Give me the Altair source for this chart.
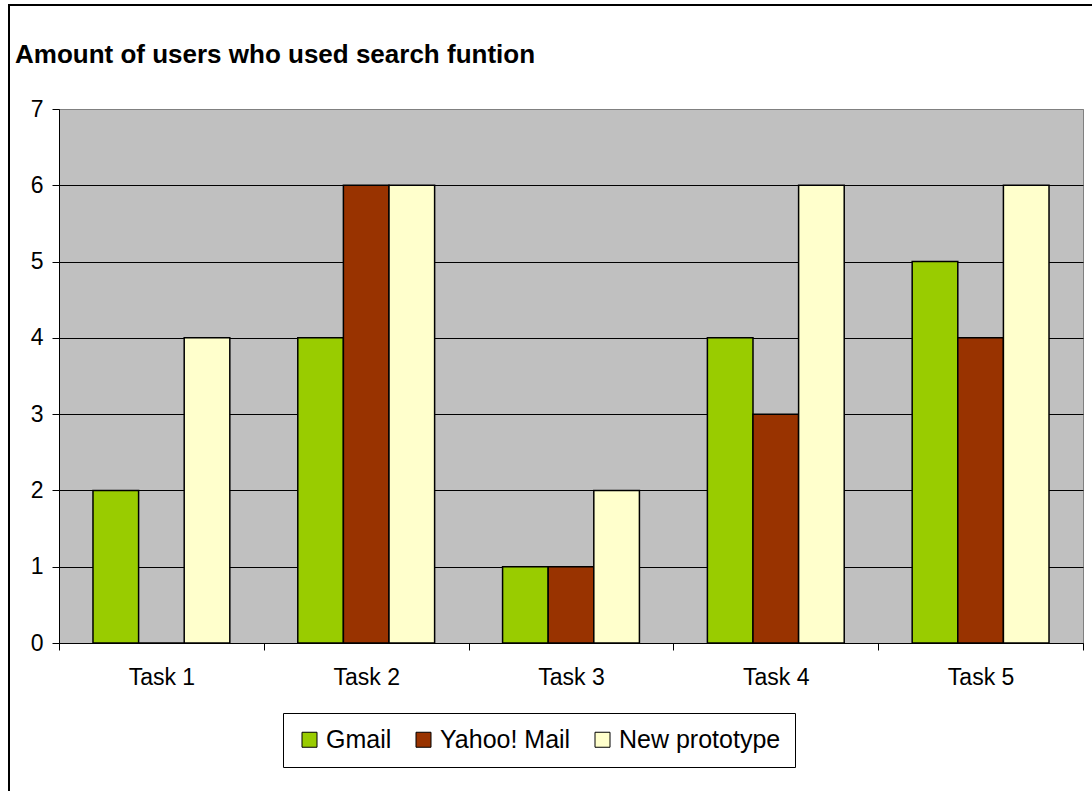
import altair as alt
import pandas as pd

tasks = ["Task 1", "Task 2", "Task 3", "Task 4", "Task 5"]
series = ["Gmail", "Yahoo! Mail", "New prototype"]
colors = ["#99CC00", "#993300", "#FFFFCC"]
gmail = [2, 4, 1, 4, 5]
yahoo = [0, 6, 1, 3, 4]
newproto = [4, 6, 2, 6, 6]
y_ticks = [0, 1, 2, 3, 4, 5, 6, 7]

rows = []
for name, vals in zip(series, [gmail, yahoo, newproto]):
    for t, v in zip(tasks, vals):
        rows.append({"task": t, "series": name, "value": v})
df = pd.DataFrame(rows)

FONT = "Liberation Sans"

bars = alt.Chart(df).mark_bar(stroke="black", strokeWidth=1.5).encode(
    x=alt.X(
        "task:N",
        sort=tasks,
        scale=alt.Scale(paddingInner=0, paddingOuter=0),
        axis=alt.Axis(
            title=None, labelAngle=0, tickBand="extent", tickSize=7,
            labelPadding=16, labelFontSize=23, labelFont=FONT, labelColor="black",
            domainColor="black", tickColor="black", grid=False,
        ),
    ),
    xOffset=alt.XOffset("series:N", sort=series,
                        scale=alt.Scale(paddingInner=0, paddingOuter=0.745)),
    y=alt.Y(
        "value:Q",
        scale=alt.Scale(domain=[0, 7], nice=False),
        axis=alt.Axis(
            title=None, values=y_ticks, grid=True,
            gridColor=alt.condition("datum.value == 7", alt.value("#808080"), alt.value("black")),
            gridWidth=1,
            tickSize=7, labelPadding=9, labelFontSize=23, labelFont=FONT,
            labelColor="black", domainColor="black", tickColor="black",
        ),
    ),
    color=alt.Color(
        "series:N",
        sort=series,
        scale=alt.Scale(domain=series, range=colors),
        legend=alt.Legend(
            title=None, orient="none", legendX=224, legendY=604,
            direction="horizontal", symbolType="square", symbolSize=225,
            symbolStrokeColor="black", symbolStrokeWidth=1, symbolOpacity=1,
            labelFontSize=25, labelFont=FONT, labelColor="black", labelLimit=400,
            columnPadding=19, labelOffset=4, padding=14,
            strokeColor="black", fillColor="white",
        ),
    ),
)

border = alt.Chart(alt.Data(values=[{}])).mark_rect(
    filled=False, stroke="black", strokeWidth=2
).encode(
    x=alt.value(-50), x2=alt.value(1100), y=alt.value(-104), y2=alt.value(800)
)

chart = alt.layer(border, bars).properties(
    width=1024,
    height=534,
    background="white",
    title=alt.TitleParams(
        text="Amount of users who used search funtion",
        anchor="start", frame="group", fontSize=26, font=FONT,
        fontWeight="bold", color="black", baseline="alphabetic",
        offset=-85, dx=-44,
    ),
    autosize=alt.AutoSizeParams(type="none"),
    padding={"left": 59, "top": 109, "right": 9, "bottom": 148},
).configure_view(
    fill="#C0C0C0", stroke="#808080", strokeWidth=1
)

chart.save("out.html", embed_options={"renderer": "svg", "actions": False})
